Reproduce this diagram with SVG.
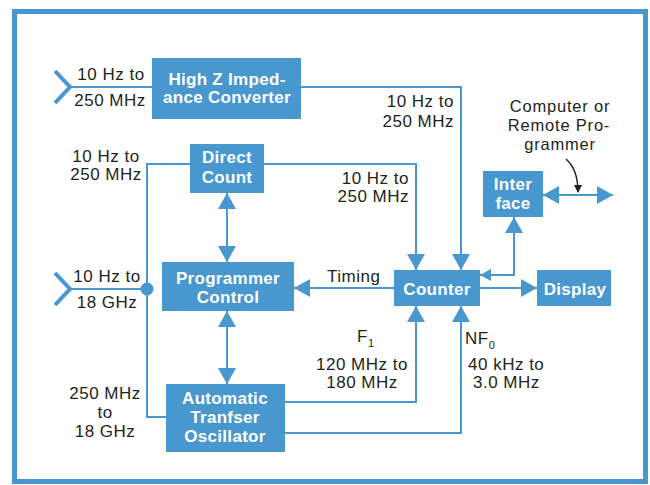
<svg xmlns="http://www.w3.org/2000/svg" width="650" height="485" viewBox="0 0 650 485">
<style>
.box{fill:#4897cf}
.bt{font-family:"Liberation Sans",Arial,sans-serif;font-weight:bold;font-size:17px;fill:#fff;text-anchor:middle;letter-spacing:0.3px}
.lt{font-family:"Liberation Sans",Arial,sans-serif;font-size:17px;fill:#231f20;letter-spacing:0.5px}
.sm{font-size:16.5px;letter-spacing:0.8px}
.m{text-anchor:middle}
.e{text-anchor:end}
.ln{fill:none;stroke:#4897cf;stroke-width:2}
.chev{fill:none;stroke:#4897cf;stroke-width:4}
</style>
<defs>
<marker id="ah" markerUnits="userSpaceOnUse" markerWidth="16" markerHeight="18" refX="16" refY="9" orient="auto-start-reverse" viewBox="0 0 16 18">
<path d="M0,0 L16,9 L0,18 z" fill="#4897cf"/>
</marker>
<marker id="as" markerUnits="userSpaceOnUse" markerWidth="11" markerHeight="12" refX="11" refY="6" orient="auto-start-reverse" viewBox="0 0 11 12">
<path d="M0,0 L11,6 L0,12 z" fill="#4897cf"/>
</marker>
<marker id="ak" markerUnits="userSpaceOnUse" markerWidth="8" markerHeight="8" refX="7" refY="4" orient="auto" viewBox="0 0 8 8">
<path d="M0,0 L8,4 L0,8 z" fill="#231f20"/>
</marker>
</defs>
<rect x="0" y="0" width="650" height="485" fill="#fff"/>
<rect x="14.5" y="11.5" width="631" height="470" fill="none" stroke="#4897cf" stroke-width="5"/>

<g id="connectors">
<polyline class="chev" points="55,71 70,87 55,103"/>
<path class="ln" d="M70,87 H152"/>
<path class="ln" d="M301,87 H461 V270" marker-end="url(#ah)"/>
<path class="ln" d="M264,164 H416 V270" marker-end="url(#ah)"/>
<path class="ln" d="M190,164 H147 V417 H166"/>
<polyline class="chev" points="55,273 70,289 55,305"/>
<path class="ln" d="M70,289 H147"/>
<circle cx="147" cy="289" r="6.5" fill="#4897cf"/>
<path class="ln" d="M227,193 V262" marker-start="url(#ah)" marker-end="url(#ah)"/>
<path class="ln" d="M227,311 V384" marker-start="url(#ah)" marker-end="url(#ah)"/>
<path class="ln" d="M394,288 H294" marker-end="url(#ah)"/>
<path class="ln" d="M285,402 H416 V306" marker-end="url(#ah)"/>
<path class="ln" d="M285,433 H461 V306" marker-end="url(#ah)"/>
<path class="ln" d="M480,288 H537" marker-end="url(#ah)"/>
<path class="ln" d="M480,275 H514 V217" marker-start="url(#as)" marker-end="url(#ah)"/>
<path class="ln" d="M543,195 H613" marker-start="url(#ah)" marker-end="url(#ah)"/>
<path d="M566,159 C574,166 578,176 578,192" fill="none" stroke="#231f20" stroke-width="1.5" marker-end="url(#ak)"/>
</g>

<g id="hz">
<rect class="box" x="152" y="58" width="149" height="61"/>
<text class="bt" x="227" y="85">High Z Imped-</text>
<text class="bt" x="227" y="103">ance Converter</text>
</g>
<g id="direct">
<rect class="box" x="190" y="144" width="74" height="49"/>
<text class="bt" x="227" y="163">Direct</text>
<text class="bt" x="227" y="183">Count</text>
</g>
<g id="progctl">
<rect class="box" x="162" y="262" width="132" height="49"/>
<text class="bt" x="228" y="284">Programmer</text>
<text class="bt" x="228" y="303">Control</text>
</g>
<g id="ato">
<rect class="box" x="166" y="384" width="119" height="68"/>
<text class="bt" x="225" y="404">Automatic</text>
<text class="bt" x="225" y="423">Tranfser</text>
<text class="bt" x="225" y="442">Oscillator</text>
</g>
<g id="counter">
<rect class="box" x="394" y="270" width="86" height="36"/>
<text class="bt" x="437" y="295">Counter</text>
</g>
<g id="display">
<rect class="box" x="537" y="270" width="74" height="36"/>
<text class="bt" x="575" y="295">Display</text>
</g>
<g id="interface">
<rect class="box" x="483" y="171" width="60" height="46"/>
<text class="bt" x="513" y="190">Inter</text>
<text class="bt" x="513" y="209">face</text>
</g>

<g id="labels">
<text class="lt m" x="111" y="80">10 Hz to</text>
<text class="lt m" x="110" y="106">250 MHz</text>
<text class="lt m" x="106" y="162">10 Hz to</text>
<text class="lt m" x="106" y="180">250 MHz</text>
<text class="lt m" x="107" y="282">10 Hz to</text>
<text class="lt m" x="107" y="308">18 GHz</text>
<text class="lt m" x="105" y="399">250 MHz</text>
<text class="lt m" x="105" y="418">to</text>
<text class="lt m" x="105" y="437">18 GHz</text>
<text class="lt e" x="454" y="107">10 Hz to</text>
<text class="lt e" x="454" y="127">250 MHz</text>
<text class="lt e" x="409" y="184">10 Hz to</text>
<text class="lt e" x="409" y="202">250 MHz</text>
<text class="lt" x="327" y="282">Timing</text>
<text class="lt" x="357" y="342">F<tspan font-size="11" dy="5">1</tspan></text>
<text class="lt m" x="362" y="370">120 MHz to</text>
<text class="lt m" x="362" y="388">180 MHz</text>
<text class="lt" x="465" y="344">NF<tspan font-size="11" dy="5">0</tspan></text>
<text class="lt" x="468" y="370">40 kHz to</text>
<text class="lt" x="473" y="388">3.0 MHz</text>
<text class="lt sm m" x="560" y="112">Computer or</text>
<text class="lt sm m" x="559" y="131">Remote Pro-</text>
<text class="lt sm m" x="560" y="150">grammer</text>
</g>
</svg>
